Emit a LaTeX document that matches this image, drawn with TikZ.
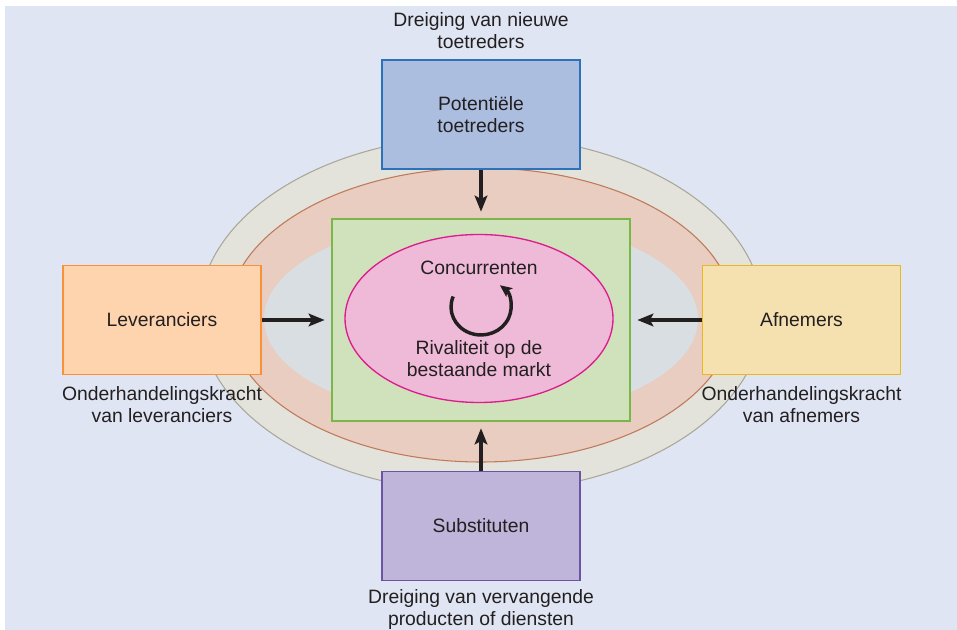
\documentclass[tikz,border=0pt]{standalone}
\usepackage{fontspec}
\setmainfont{Liberation Sans}
\usepackage{xcolor}
\definecolor{porterbg}{HTML}{DFE5F3}
\definecolor{porterink}{HTML}{231F20}
\definecolor{ringout}{HTML}{E3E3DC}
\definecolor{ringoutline}{HTML}{A9A898}
\definecolor{ringmid}{HTML}{E8CDC0}
\definecolor{ringmidline}{HTML}{C07A5A}
\definecolor{ringin}{HTML}{D9DEE3}
\definecolor{marktgreen}{HTML}{CFE2BC}
\definecolor{marktline}{HTML}{7AB648}
\definecolor{rivalpink}{HTML}{EEBAD8}
\definecolor{rivalline}{HTML}{DD1C8D}
\definecolor{toetblue}{HTML}{ABBEE0}
\definecolor{toetline}{HTML}{2C72B8}
\definecolor{levorange}{HTML}{FDD4AE}
\definecolor{levline}{HTML}{F7923A}
\definecolor{afnyellow}{HTML}{F5E1B0}
\definecolor{afnline}{HTML}{E9B71E}
\definecolor{subviolet}{HTML}{BFB4D9}
\definecolor{subline}{HTML}{6A54A4}
\usetikzlibrary{
  arrows.meta,
  positioning,
  shapes.geometric
}

\begin{document}
\begin{tikzpicture}[
    x=0.75pt, y=-0.75pt,
    >=Stealth,
    txt/.style={font=\fontsize{14.5}{16.5}\selectfont, text=porterink, align=center},
    lbl/.style={txt, inner sep=0pt},
    force/.style={txt, draw, line width=1.2pt, minimum width=148.5pt, minimum height=81.75pt, inner sep=0pt},
    arr/.style={->, line width=2.6pt, porterink, shorten >=5pt, >={Stealth[length=12pt, width=9.5pt, inset=2.5pt]}}
  ]

  %% --- Background ---
  \useasboundingbox (0,0) rectangle (957,630);
  \fill[porterbg] (5,6) rectangle (957,630);

  %% --- Rings round the market ---
  \filldraw[fill=ringout, draw=ringoutline, line width=0.8pt] (481,314) ellipse [x radius=211.5pt, y radius=133.5pt];
  \filldraw[fill=ringmid, draw=ringmidline, line width=0.8pt] (481,315) ellipse [x radius=189.75pt, y radius=110.25pt];
  \fill[ringin] (481,319) ellipse [x radius=162.75pt, y radius=75.75pt];

  %% --- Market ---
  \node[draw=marktline, fill=marktgreen, line width=1pt, minimum width=223.5pt, minimum height=151.5pt] (markt) at (481,320) {};
  \node[ellipse, draw=rivalline, fill=rivalpink, line width=1pt, minimum width=201pt, minimum height=126pt] (rival) at (479,318.5) {};
  \node[txt] (conc) at (479,268) {Concurrenten};
  \node[txt] (rivtxt) at (479,359) {Rivaliteit op de\\bestaande markt};
  \draw[->, line width=2.6pt, porterink, >={Stealth[length=9pt, width=8pt, inset=2pt]}]
    (453.2,296.5) arc[start angle=158, end angle=411, x radius=22.5pt, y radius=21pt];

  %% --- Five forces ---
  \node[force, draw=toetline, fill=toetblue] (toet) at (481,114.5) {Potentiële\\toetreders};
  \node[force, draw=levline, fill=levorange] (lev) at (162,320) {Leveranciers};
  \node[force, draw=afnline, fill=afnyellow] (afn) at (801.5,320) {Afnemers};
  \node[force, draw=subline, fill=subviolet] (subst) at (481,526) {Substituten};

  %% --- Notes ---
  \node[lbl, above=8pt of toet] (toetnote) {Dreiging van nieuwe\\toetreders};
  \node[lbl, below=8pt of lev] (levnote) {Onderhandelingskracht\\van leveranciers};
  \node[lbl, below=8pt of afn] (afnnote) {Onderhandelingskracht\\van afnemers};
  \node[lbl, below=6pt of subst] (substnote) {Dreiging van vervangende\\producten of diensten};

  %% --- Connections ---
  \draw[arr] (toet) -- (markt);
  \draw[arr] (lev) -- (markt);
  \draw[arr] (afn) -- (markt);
  \draw[arr] (subst) -- (markt);
\end{tikzpicture}
\end{document}
